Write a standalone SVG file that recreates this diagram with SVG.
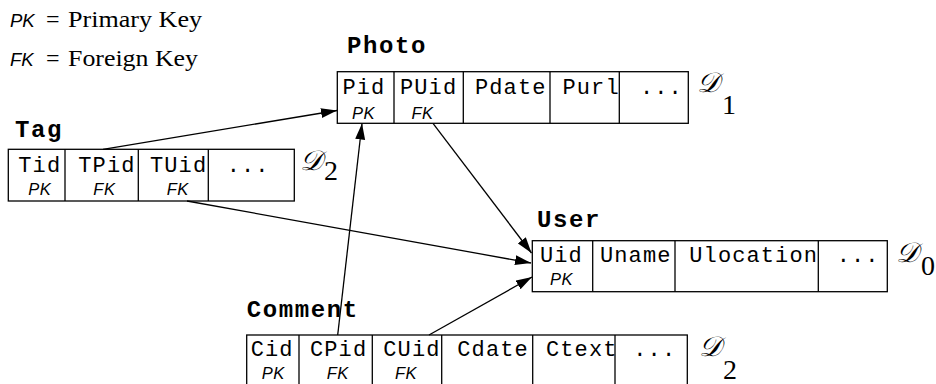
<svg xmlns="http://www.w3.org/2000/svg" width="936" height="384" viewBox="0 0 936 384">
<style>
.bg{fill:#fff}
.box{fill:#fff;stroke:#000;stroke-width:1.3}
.div{stroke:#000;stroke-width:1.3}
.f{font-family:"Liberation Mono","Courier New",monospace;font-size:22px;letter-spacing:1.1px;fill:#000}
.t{font-family:"Liberation Mono","Courier New",monospace;font-size:24px;font-weight:bold;letter-spacing:1.6px;fill:#000}
.k{font-family:"Liberation Sans",Arial,sans-serif;font-size:16.5px;font-style:italic;letter-spacing:0.5px;fill:#000}
.lk{font-family:"Liberation Sans",Arial,sans-serif;font-size:18.5px;font-style:italic;fill:#000}
.s{font-family:"Liberation Serif","Times New Roman",serif;font-size:24px;fill:#000}
.d{font-family:"DejaVu Serif","Liberation Serif",serif;font-size:28px;font-style:italic;fill:#000}
.n{font-family:"Liberation Serif","Times New Roman",serif;font-size:28px;fill:#000}
.c{stroke:#000;stroke-width:1.3;fill:none;marker-end:url(#ah)}
</style>
<defs>
<marker id="ah" markerUnits="userSpaceOnUse" markerWidth="17" markerHeight="11" refX="16" refY="5" orient="auto">
<path d="M0,0 L16,5 L0,10 z" fill="#000"/>
</marker>
</defs>
<rect class="bg" x="0" y="0" width="936" height="384"/>
<g id="legend">
<text class="lk" x="10" y="27">PK</text>
<text class="s" x="46" y="27">=</text>
<text class="s" x="68" y="27" textLength="134" lengthAdjust="spacingAndGlyphs">Primary Key</text>
<text class="lk" x="10" y="66">FK</text>
<text class="s" x="46" y="66">=</text>
<text class="s" x="68" y="66" textLength="130" lengthAdjust="spacingAndGlyphs">Foreign Key</text>
</g>
<g id="photo">
<text class="t" x="347" y="53">Photo</text>
<rect class="box" x="337.3" y="71.7" width="351" height="51.6"/>
<line class="div" x1="394" y1="71.7" x2="394" y2="123.3"/>
<line class="div" x1="463.3" y1="71.7" x2="463.3" y2="123.3"/>
<line class="div" x1="550" y1="71.7" x2="550" y2="123.3"/>
<line class="div" x1="619.3" y1="71.7" x2="619.3" y2="123.3"/>
<text class="f" x="342.5" y="94">Pid</text>
<text class="f" x="400" y="94">PUid</text>
<text class="f" x="475" y="94">Pdate</text>
<text class="f" x="562.5" y="94">Purl</text>
<text class="f" x="640" y="94">...</text>
<text class="k" x="352" y="118.5">PK</text>
<text class="k" x="411.5" y="118.5">FK</text>
<text class="d" x="697" y="92">𝒟</text>
<text class="n" x="722" y="114">1</text>
</g>
<g id="tag">
<text class="t" x="15" y="137">Tag</text>
<rect class="box" x="8.3" y="149.3" width="286" height="51.7"/>
<line class="div" x1="65" y1="149.3" x2="65" y2="201"/>
<line class="div" x1="138.3" y1="149.3" x2="138.3" y2="201"/>
<line class="div" x1="208.3" y1="149.3" x2="208.3" y2="201"/>
<text class="f" x="18.3" y="172">Tid</text>
<text class="f" x="78.3" y="172">TPid</text>
<text class="f" x="150" y="172">TUid</text>
<text class="f" x="226.7" y="172">...</text>
<text class="k" x="28.3" y="195">PK</text>
<text class="k" x="93.3" y="195">FK</text>
<text class="k" x="166.7" y="195">FK</text>
<text class="d" x="300" y="170">𝒟</text>
<text class="n" x="324" y="180">2</text>
</g>
<g id="user">
<text class="t" x="537" y="227">User</text>
<rect class="box" x="532.3" y="240.7" width="355" height="51"/>
<line class="div" x1="592.7" y1="240.7" x2="592.7" y2="291.7"/>
<line class="div" x1="675" y1="240.7" x2="675" y2="291.7"/>
<line class="div" x1="818.3" y1="240.7" x2="818.3" y2="291.7"/>
<text class="f" x="540" y="262">Uid</text>
<text class="f" x="600" y="262">Uname</text>
<text class="f" x="689.3" y="262">Ulocation</text>
<text class="f" x="836.7" y="262">...</text>
<text class="k" x="550" y="285">PK</text>
<text class="d" x="896" y="262">𝒟</text>
<text class="n" x="921" y="275">0</text>
</g>
<g id="comment">
<text class="t" x="246.7" y="317">Comment</text>
<rect class="box" x="246.7" y="335" width="440.6" height="52"/>
<line class="div" x1="299" y1="335" x2="299" y2="387"/>
<line class="div" x1="372.3" y1="335" x2="372.3" y2="387"/>
<line class="div" x1="441.7" y1="335" x2="441.7" y2="387"/>
<line class="div" x1="532.7" y1="335" x2="532.7" y2="387"/>
<line class="div" x1="615" y1="335" x2="615" y2="387"/>
<text class="f" x="250.7" y="356">Cid</text>
<text class="f" x="310" y="356">CPid</text>
<text class="f" x="383.3" y="356">CUid</text>
<text class="f" x="457.3" y="356">Cdate</text>
<text class="f" x="546" y="356">Ctext</text>
<text class="f" x="633.3" y="356">...</text>
<text class="k" x="261.7" y="379">PK</text>
<text class="k" x="326.7" y="379">FK</text>
<text class="k" x="395" y="379">FK</text>
<text class="d" x="699" y="356">𝒟</text>
<text class="n" x="723" y="379">2</text>
</g>
<g id="connectors">
<path class="c" d="M103,149.3 L337,110.5"/>
<path class="c" d="M433,123.3 L531.5,253"/>
<path class="c" d="M187,201 L531,263"/>
<path class="c" d="M337.7,335 L362,123.5"/>
<path class="c" d="M429,335 L532,277"/>
</g>
</svg>
